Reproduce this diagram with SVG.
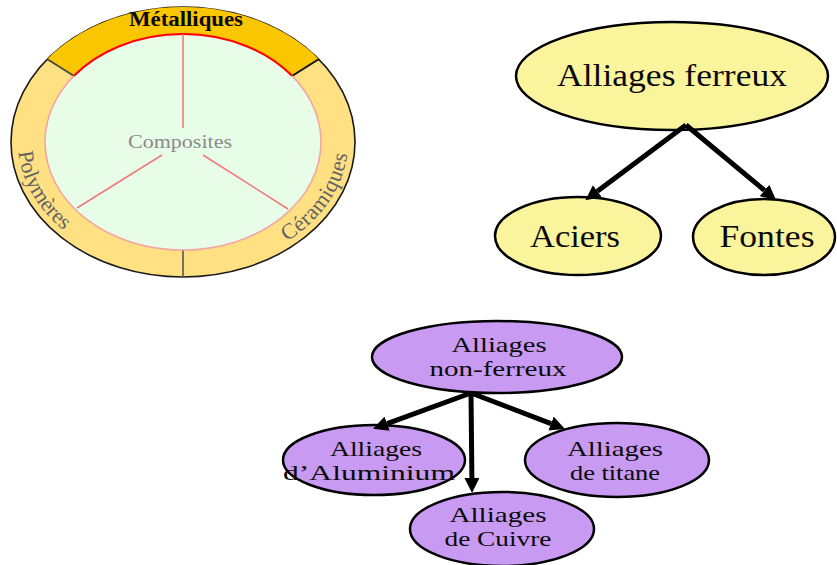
<svg xmlns="http://www.w3.org/2000/svg" width="837" height="565" viewBox="0 0 837 565">
  <defs>
    <style>
      text { font-family: "Liberation Serif", "Times New Roman", serif; fill: #0a0a0a; }
      .ring-label { font-size: 22px; fill: #636363; }
      .ferrous { fill: #FAF49C; stroke: #000; stroke-width: 2.5; }
      .nonferrous { fill: #C99AF2; stroke: #000; stroke-width: 2.5; }
      .big { font-size: 31px; text-anchor: middle; }
      .mid { font-size: 22px; text-anchor: middle; }
      .arrow { stroke: #000; stroke-width: 5; fill: none; marker-end: url(#head); }
      .spoke { stroke: #F07A7A; stroke-width: 1.6; }
    </style>
    <marker id="head" viewBox="0 0 15 15" refX="0" refY="7.5" markerWidth="15" markerHeight="15" markerUnits="userSpaceOnUse" orient="auto">
      <path d="M0,0 L15,7.5 L0,15 Z" fill="#000"/>
    </marker>
    <!-- baseline for the labels on the lower part of the ring -->
    <path id="ringBase" d="M18,142 A165,128 0 0 0 348,142"/>
  </defs>

  <!-- Material families wheel -->
  <g id="wheel">
    <ellipse cx="183" cy="142" rx="172" ry="135" fill="#FFE183" stroke="#1a1a1a" stroke-width="1.6"/>
    <path d="M47.1,59.2 A172,135 0 0 1 318.9,59.2 L292,75.8 A138,108 0 0 0 74,75.8 Z" fill="#F9C600"/>
    <line x1="47" y1="59" x2="74" y2="76" stroke="#444" stroke-width="1.6"/>
    <line x1="319" y1="59" x2="292" y2="76" stroke="#111" stroke-width="2"/>
    <line x1="183" y1="250" x2="183" y2="277" stroke="#555" stroke-width="1.6"/>
    <ellipse cx="183" cy="142" rx="138" ry="108" fill="#E8FDE8" stroke="#F6A3A3" stroke-width="1.6"/>
    <path d="M74,75.8 A138,108 0 0 1 292,75.8" fill="none" stroke="#FF0000" stroke-width="2"/>
    <line class="spoke" x1="183" y1="34" x2="183" y2="128"/>
    <line class="spoke" x1="162" y1="155" x2="77" y2="208"/>
    <line class="spoke" x1="203" y1="155" x2="288" y2="209"/>
    <text x="186" y="26" font-size="20" font-weight="bold" text-anchor="middle" textLength="114" lengthAdjust="spacingAndGlyphs">Métalliques</text>
    <text x="180" y="148" font-size="19" style="fill:#8a8a8a" text-anchor="middle" textLength="104" lengthAdjust="spacingAndGlyphs">Composites</text>
    <text class="ring-label"><textPath href="#ringBase" startOffset="10">Polymères</textPath></text>
    <text class="ring-label" letter-spacing="0.5"><textPath href="#ringBase" startOffset="340">Céramiques</textPath></text>
  </g>

  <!-- Ferrous alloys -->
  <g id="alliages-ferreux">
    <ellipse class="ferrous" cx="672" cy="76" rx="156" ry="54"/>
    <text class="big" x="672" y="86" textLength="230" lengthAdjust="spacingAndGlyphs">Alliages ferreux</text>
  </g>
  <g id="aciers">
    <ellipse class="ferrous" cx="578" cy="236" rx="83" ry="39"/>
    <text class="big" x="575" y="247" textLength="90" lengthAdjust="spacingAndGlyphs">Aciers</text>
  </g>
  <g id="fontes">
    <ellipse class="ferrous" cx="764" cy="237" rx="71" ry="38"/>
    <text class="big" x="767" y="247" textLength="95" lengthAdjust="spacingAndGlyphs">Fontes</text>
  </g>

  <!-- Non-ferrous alloys -->
  <g id="alliages-non-ferreux">
    <ellipse class="nonferrous" cx="497" cy="357" rx="125" ry="36"/>
    <text class="mid" x="499" y="352" textLength="95" lengthAdjust="spacingAndGlyphs">Alliages</text>
    <text class="mid" x="498" y="376" textLength="137" lengthAdjust="spacingAndGlyphs">non-ferreux</text>
  </g>
  <g id="aluminium">
    <ellipse class="nonferrous" cx="374" cy="460" rx="91" ry="35"/>
    <text class="mid" x="376" y="456" textLength="92" lengthAdjust="spacingAndGlyphs">Alliages</text>
    <text class="mid" x="369" y="480" textLength="172" lengthAdjust="spacingAndGlyphs">d’Aluminium</text>
  </g>
  <g id="titane">
    <ellipse class="nonferrous" cx="617" cy="460" rx="92" ry="37"/>
    <text class="mid" x="615" y="456" textLength="96" lengthAdjust="spacingAndGlyphs">Alliages</text>
    <text class="mid" x="615" y="480" textLength="90" lengthAdjust="spacingAndGlyphs">de titane</text>
  </g>
  <g id="cuivre">
    <ellipse class="nonferrous" cx="502" cy="529" rx="92" ry="37"/>
    <text class="mid" x="498" y="522" textLength="97" lengthAdjust="spacingAndGlyphs">Alliages</text>
    <text class="mid" x="498" y="546" textLength="107" lengthAdjust="spacingAndGlyphs">de Cuivre</text>
  </g>

  <!-- Connectors -->
  <g id="connectors">
    <line class="arrow" x1="686" y1="125" x2="597.4" y2="191.2"/>
    <line class="arrow" x1="686" y1="125" x2="764.5" y2="190.4"/>
    <line class="arrow" x1="471" y1="393" x2="387.1" y2="423.6"/>
    <line class="arrow" x1="471" y1="393" x2="471.9" y2="478"/>
    <line class="arrow" x1="471" y1="393" x2="551" y2="423.6"/>
  </g>
</svg>
